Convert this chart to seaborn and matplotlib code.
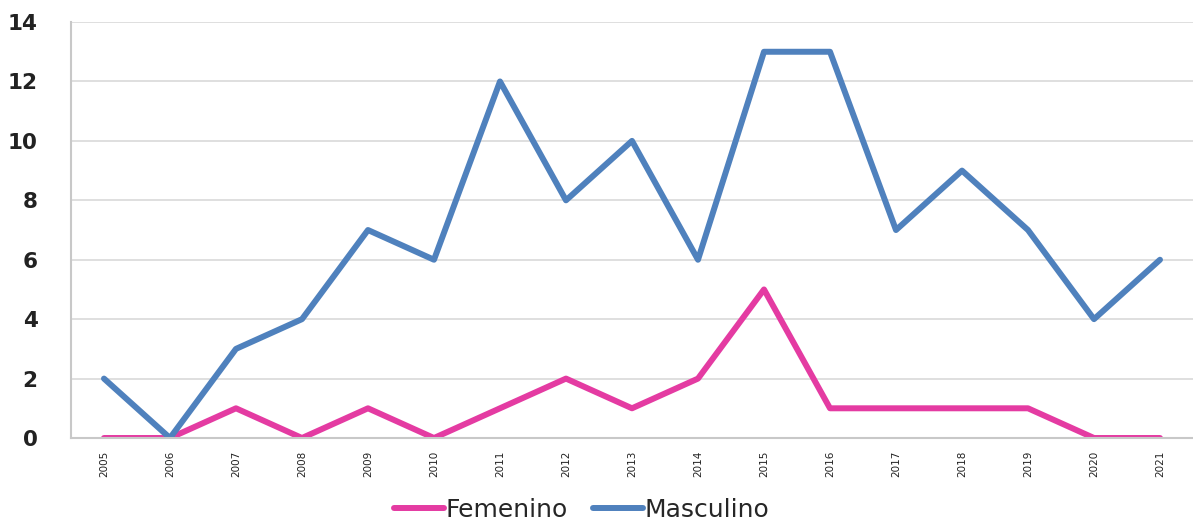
import pandas as pd
import numpy as np
import matplotlib
matplotlib.use("Agg")
import matplotlib.pyplot as plt
import seaborn as sns

years = [str(y) for y in range(2005, 2022)]
femenino = [0, 0, 1, 0, 1, 0, 1, 2, 1, 2, 5, 1, 1, 1, 1, 0, 0]
masculino = [2, 0, 3, 4, 7, 6, 12, 8, 10, 6, 13, 13, 7, 9, 7, 4, 6]

colors = {"Femenino": "#E43BA2", "Masculino": "#4F81BD"}

df = pd.DataFrame({"Año": years * 2,
                   "Casos": femenino + masculino,
                   "Sexo": ["Femenino"] * len(years) + ["Masculino"] * len(years)})

sns.set_style("white")
fig = plt.figure(figsize=(11.93, 5.25), dpi=100)
ax = fig.add_axes([0.0595, 0.1657, 0.9405, 0.7923])

sns.lineplot(data=df, x="Año", y="Casos", hue="Sexo", palette=colors,
             linewidth=4.3, sort=False, ax=ax, clip_on=True)

ax.set_xlim(-0.5, 16.24)
ax.set_ylim(0, 14)
ax.set_yticks(range(0, 15, 2))
ax.yaxis.grid(True, color="#D9D9D9", linewidth=1.2)
ax.set_axisbelow(True)
for s in ["top", "right"]:
    ax.spines[s].set_visible(False)
ax.spines["left"].set_color("#C8C8C8")
ax.spines["left"].set_linewidth(1.5)
ax.spines["bottom"].set_color("#C8C8C8")
ax.spines["bottom"].set_linewidth(1.5)

ax.set_xticks(range(len(years)))
ax.set_xticklabels(years, rotation=90, fontsize=7.5, color="#222222")
ax.set_xticks(np.arange(-0.5, len(years), 1), minor=True)
ax.tick_params(axis="x", which="major", length=0, pad=9)
ax.tick_params(axis="x", which="minor", length=5, color="#C8C8C8", direction="out")
ax.tick_params(axis="y", length=0, labelsize=15.5, pad=24, labelcolor="#222222")
for lab in ax.get_yticklabels():
    lab.set_fontweight("semibold")
ax.set_xlabel("")
ax.set_ylabel("")

ax.legend(title=None, loc="lower center", bbox_to_anchor=(0.5 - 0.045, -0.255),
          ncol=2, frameon=False, fontsize=18, handlelength=2.0,
          handletextpad=0.05, columnspacing=1.0)

fig.savefig("out.png", dpi=100)
